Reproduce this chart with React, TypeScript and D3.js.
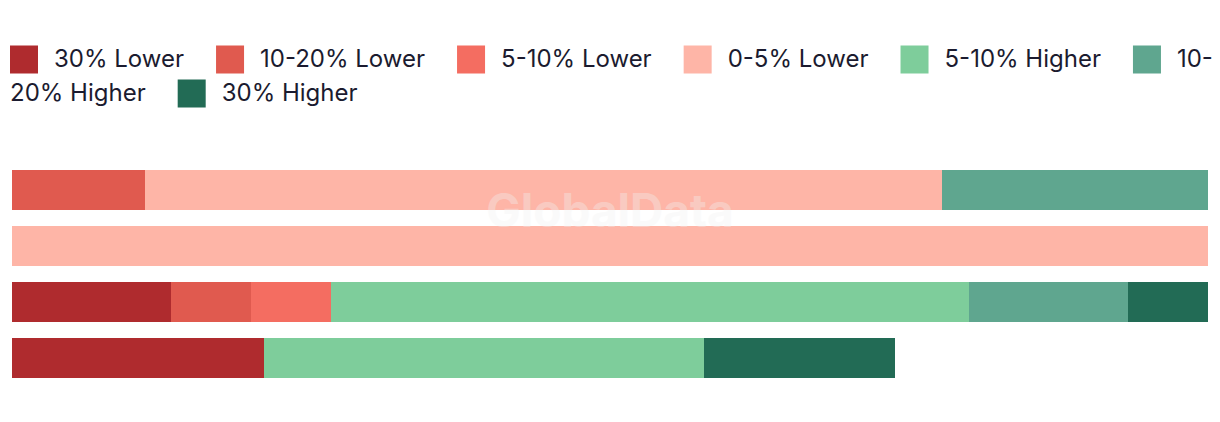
import { useEffect, useRef } from 'react';
import * as d3 from 'd3';

// share of each bucket per group (percent)
const groups = ['Group 1', 'Group 2', 'Group 3', 'Group 4'];
const seriesNames = ['30% Lower', '10-20% Lower', '5-10% Lower', '0-5% Lower', '5-10% Higher', '10-20% Higher', '30% Higher'];
const seriesColors = ['#af2b2e', '#e05a4f', '#f46d61', '#feb5a7', '#7ecd9b', '#5fa68f', '#226b55'];

const lower30 = [0, 0, 13.33, 21.1];
const lower10to20 = [11.11, 0, 6.67, 0];
const lower5to10 = [0, 0, 6.67, 0];
const lower0to5 = [66.67, 100, 0, 0];
const higher5to10 = [0, 0, 53.33, 36.8];
const higher10to20 = [22.22, 0, 13.33, 0];
const higher30 = [0, 0, 6.67, 15.9];

const W = 1220;
const H = 422;

const App = () => {
    const svgRef = useRef<SVGSVGElement>(null);

    useEffect(() => {
        document.body.style.margin = '0';
        const svg = d3.select(svgRef.current);
        svg.selectAll('*').remove();

        const values = [lower30, lower10to20, lower5to10, lower0to5, higher5to10, higher10to20, higher30];
        const rows = groups.map((g, i) => {
            const r: any = { group: g };
            seriesNames.forEach((s, k) => { r[s] = values[k][i]; });
            return r;
        });
        const stacked = d3.stack().keys(seriesNames)(rows);

        const x = d3.scaleLinear().domain([0, 100]).range([12, 1208]);
        const y = d3.scaleBand().domain(groups).range([170, 378]).paddingInner(16 / 56).paddingOuter(0);
        const color = d3.scaleOrdinal<string, string>().domain(seriesNames).range(seriesColors);

        svg.append('g')
            .attr('shape-rendering', 'crispEdges')
            .selectAll('g')
            .data(stacked)
            .join('g')
            .attr('fill', d => color(d.key))
            .selectAll('rect')
            .data(d => d)
            .join('rect')
            .attr('x', d => x(d[0]))
            .attr('y', d => y(d.data.group as string)!)
            .attr('width', d => x(d[1]) - x(d[0]))
            .attr('height', y.bandwidth());

        // watermark
        svg.append('text')
            .attr('x', 610)
            .attr('y', 227)
            .attr('text-anchor', 'middle')
            .attr('font-family', 'Inter, sans-serif')
            .attr('font-weight', 700)
            .attr('font-size', 46)
            .attr('fill', '#f2f2f2')
            .attr('opacity', 0.35)
            .text('GlobalData');

        // legend, wrapping like html text
        const legend = svg.append('g')
            .attr('font-family', 'Inter, sans-serif')
            .attr('font-size', 24)
            .attr('fill', '#1b1b2f');
        const measure = (t: string) => {
            const n = legend.append('text').text(t);
            const w = (n.node() as SVGTextElement).getComputedTextLength();
            n.remove();
            return w;
        };
        const sw = 28, gapText = 16, gapItem = 32, left = 10, right = 1217;
        let cx = left, line = 0;
        const lineH = 34, firstCenter = 59.5, base = 7.5;
        seriesNames.forEach((name, i) => {
            const tw = measure(name);
            if (cx + sw + gapText + tw > right) {
                const cut = name.indexOf('-');
                const head = name.slice(0, cut + 1);
                if (cut >= 0 && cx + sw + gapText + measure(head) <= right) {
                    const cy = firstCenter + line * lineH;
                    legend.append('rect').attr('x', cx).attr('y', cy - sw / 2).attr('width', sw).attr('height', sw).attr('fill', seriesColors[i]);
                    legend.append('text').attr('x', cx + sw + gapText).attr('y', cy + base).text(head);
                    line += 1;
                    const tail = name.slice(cut + 1);
                    legend.append('text').attr('x', left).attr('y', firstCenter + line * lineH + base).text(tail);
                    cx = left + measure(tail) + gapItem;
                    return;
                }
                line += 1;
                cx = left;
            }
            const cy = firstCenter + line * lineH;
            legend.append('rect').attr('x', cx).attr('y', cy - sw / 2).attr('width', sw).attr('height', sw).attr('fill', seriesColors[i]);
            legend.append('text').attr('x', cx + sw + gapText).attr('y', cy + base).text(name);
            cx += sw + gapText + tw + gapItem;
        });
    }, []);

    return <svg ref={svgRef} width={W} height={H} style={{ display: 'block', background: '#fff' }} />;
};

export default App;
